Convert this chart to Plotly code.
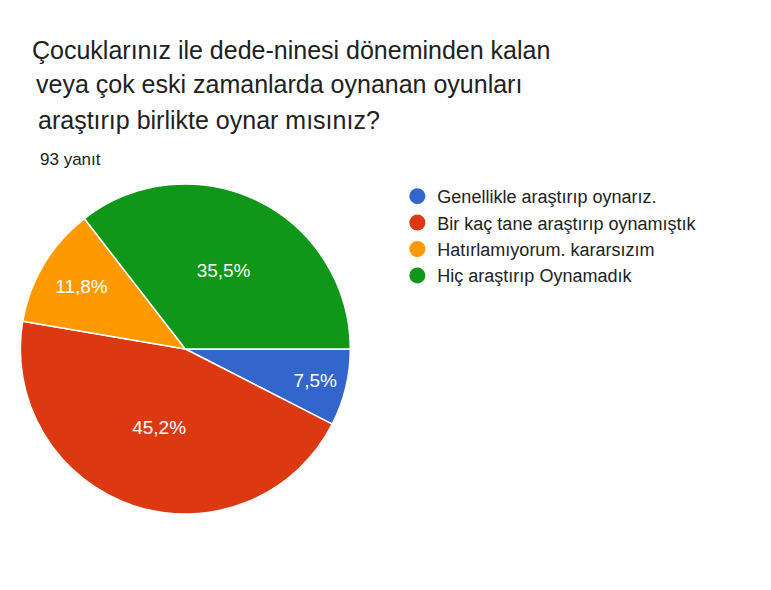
import plotly.graph_objects as go

labels = ["Genellikle araştırıp oynarız.", "Bir kaç tane araştırıp oynamıştık",
          "Hatırlamıyorum. kararsızım", "Hiç araştırıp Oynamadık"]
counts = [7, 42, 11, 33]
colors = ["#3366cc", "#dc3912", "#ff9900", "#109618"]
title_lines = ["Çocuklarınız ile dede-ninesi döneminden kalan",
               "veya çok eski zamanlarda oynanan oyunları",
               "araştırıp birlikte oynar mısınız?"]

FONT = "Liberation Sans, Arial"

fig = go.Figure()
fig.add_trace(go.Pie(
    labels=labels, values=counts, sort=False, direction="clockwise", rotation=90,
    marker=dict(colors=colors, line=dict(color="white", width=1.5)),
    texttemplate="%{percent:.1%}", textposition="inside", insidetextorientation="horizontal",
    textfont=dict(color="white", size=19, family=FONT),
    domain=dict(x=[0.016, 0.444], y=[0.142, 0.702]), showlegend=False,
))
# legend entries with round markers
for lab, col in zip(labels, colors):
    fig.add_trace(go.Scatter(x=[None], y=[None], mode="markers", name=lab,
                             marker=dict(symbol="circle", size=19, color=col)))

for line, x, y in zip(title_lines, [22, 26, 28], [42, 76, 112]):
    fig.add_annotation(text=line, x=x / 771, y=1 - y / 590, xref="paper", yref="paper",
                       xanchor="left", yanchor="middle", showarrow=False,
                       font=dict(size=25, color="#212121", family=FONT))
fig.add_annotation(text="93 yanıt", x=30 / 771, y=1 - 152 / 590, xref="paper", yref="paper",
                   xanchor="left", yanchor="middle", showarrow=False,
                   font=dict(size=17, color="#212121", family=FONT))

fig.update_layout(
    width=771, height=590, margin=dict(l=0, r=0, t=0, b=0),
    paper_bgcolor="white", plot_bgcolor="white", separators=",.",
    xaxis=dict(visible=False), yaxis=dict(visible=False),
    legend=dict(x=0.505, y=1 - 170 / 590, xanchor="left", yanchor="top",
                font=dict(size=18, color="#222222", family=FONT), tracegroupgap=14),
)
fig.write_html("out.html")
